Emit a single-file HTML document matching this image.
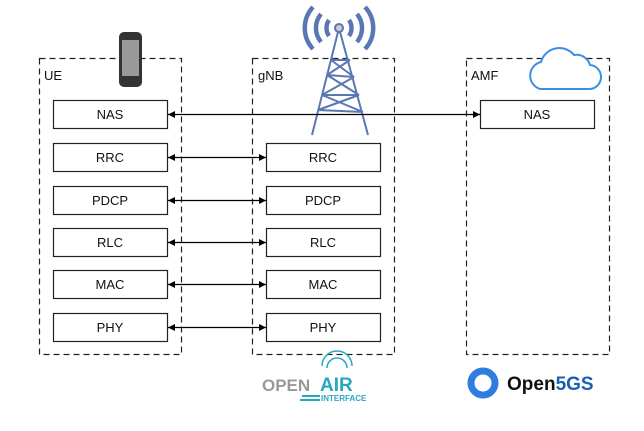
<!DOCTYPE html>
<html><head><style>
body{margin:0;background:#fff;width:644px;height:426px;overflow:hidden;font-family:"Liberation Sans",sans-serif}
</style></head><body>
<svg width="644" height="426" viewBox="0 0 644 426" font-family="Liberation Sans, sans-serif">
<defs>
<marker id="a" markerWidth="8" markerHeight="8" refX="7" refY="4" orient="auto-start-reverse" markerUnits="userSpaceOnUse"><path d="M0,0.5 L7,4 L0,7.5z" fill="#000"/></marker>
</defs>
<g fill="none" stroke="#222" stroke-width="1.2" stroke-dasharray="6,4">
<rect x="39.5" y="58.5" width="142" height="296"/>
<rect x="252.5" y="58.5" width="142" height="296"/>
<rect x="466.5" y="58.5" width="143" height="296"/>
</g>
<g font-size="13" fill="#111">
<text x="44" y="80">UE</text><text x="258" y="80">gNB</text><text x="471" y="80">AMF</text>
</g>
<g stroke="#5b77b3" stroke-width="2" fill="none">
<path d="M339,28 L312,135 M339,28 L368,135 M331,60 L350,60 M327,75 L354,77 M322,95 L359,95 M318,110 L363,112 M331,60 L354,77 M350,60 L327,75 M354,77 L322,95 M327,75 L359,95 M359,95 L318,110 M322,95 L363,112"/>
<g stroke-width="4.5">
<path d="M329,36 A14,14 0 0 1 329,20"/><path d="M349,20 A14,14 0 0 1 349,36"/>
<path d="M321,42 A22,22 0 0 1 321,14"/><path d="M357,14 A22,22 0 0 1 357,42"/>
<path d="M313,49 A31,31 0 0 1 313,7"/><path d="M365,7 A31,31 0 0 1 365,49"/>
</g>
</g>
<circle cx="339" cy="28" r="4" fill="#ccc" stroke="#5b77b3" stroke-width="2"/>
<rect x="119" y="32" width="23" height="55" rx="5" fill="#333"/>
<rect x="122" y="40" width="17" height="36" fill="#999"/>
<path d="M540,89 L588,89 A12,12 0 0 0 590,65 A14,14 0 0 0 574,55 A19,19 0 0 0 541,62 A14,14 0 0 0 540,89z" fill="#fff" stroke="#3b8fe0" stroke-width="2"/>
<g fill="#fff" stroke="#222" stroke-width="1.2">
<rect x="53.5" y="100.5" width="114" height="28"/>
<rect x="53.5" y="143.5" width="114" height="28"/><rect x="266.5" y="143.5" width="114" height="28"/>
<rect x="53.5" y="186.5" width="114" height="28"/><rect x="266.5" y="186.5" width="114" height="28"/>
<rect x="53.5" y="228.5" width="114" height="28"/><rect x="266.5" y="228.5" width="114" height="28"/>
<rect x="53.5" y="270.5" width="114" height="28"/><rect x="266.5" y="270.5" width="114" height="28"/>
<rect x="53.5" y="313.5" width="114" height="28"/><rect x="266.5" y="313.5" width="114" height="28"/>
<rect x="480.5" y="100.5" width="114" height="28"/>
</g>
<g stroke="#000" stroke-width="1.3" marker-start="url(#a)" marker-end="url(#a)">
<line x1="168" y1="114.5" x2="480" y2="114.5"/>
<line x1="168" y1="157.5" x2="266" y2="157.5"/>
<line x1="168" y1="200.5" x2="266" y2="200.5"/>
<line x1="168" y1="242.5" x2="266" y2="242.5"/>
<line x1="168" y1="284.5" x2="266" y2="284.5"/>
<line x1="168" y1="327.5" x2="266" y2="327.5"/>
</g>
<g font-size="13" fill="#111" text-anchor="middle">
<text x="110" y="119">NAS</text><text x="537" y="119">NAS</text>
<text x="110" y="162">RRC</text><text x="323" y="162">RRC</text>
<text x="110" y="205">PDCP</text><text x="323" y="205">PDCP</text>
<text x="110" y="247">RLC</text><text x="323" y="247">RLC</text>
<text x="110" y="289">MAC</text><text x="323" y="289">MAC</text>
<text x="110" y="332">PHY</text><text x="323" y="332">PHY</text>
</g>
<text x="262" y="391" font-size="17" font-weight="bold" fill="#999">OPEN</text>
<text x="320" y="391" font-size="19" font-weight="bold" fill="#2aa7c0">AIR</text>
<path d="M322,366 A14,14 0 0 1 352,366 M327,368 A9,9 0 0 1 347,368" stroke="#2aa7c0" stroke-width="1.5" fill="none"/>
<rect x="302" y="395" width="18" height="2" fill="#2aa7c0"/><rect x="300" y="399" width="20" height="2" fill="#2aa7c0"/>
<text x="321" y="401" font-size="8" font-weight="bold" fill="#2aa7c0">INTERFACE</text>
<circle cx="483" cy="383" r="12" fill="none" stroke="#2f7de0" stroke-width="7"/>
<text x="507" y="390" font-size="19" font-weight="bold" fill="#111">Open<tspan fill="#1b5fb5">5GS</tspan></text>
</svg>
</body></html>
